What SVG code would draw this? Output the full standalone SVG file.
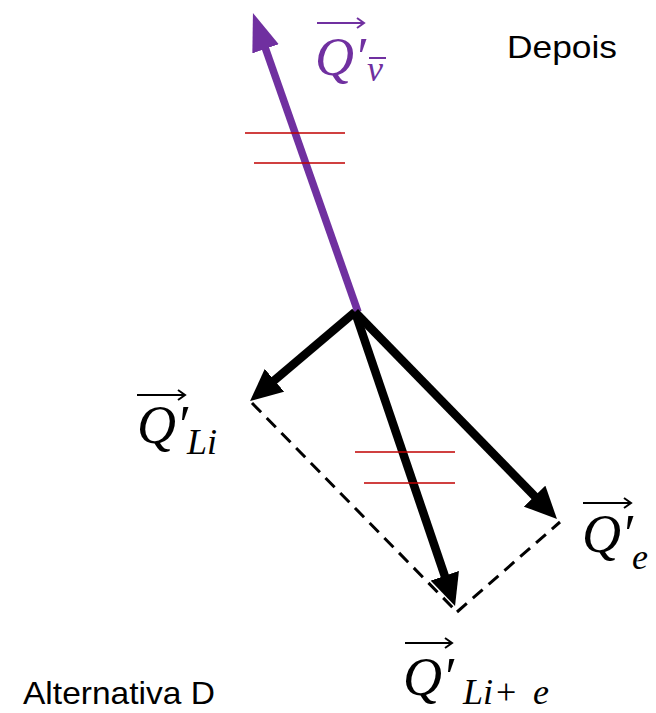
<svg xmlns="http://www.w3.org/2000/svg" width="656" height="713" viewBox="0 0 656 713">
<style>
.vec{stroke:#000;stroke-width:8.5;fill:none}
.pur{stroke:#7030a0;stroke-width:7.5;fill:none}
.dash{stroke:#000;stroke-width:3;stroke-dasharray:13 8;fill:none}
.red{stroke:#c00000;stroke-width:1.5}
.m{font-family:"Liberation Serif","DejaVu Serif",serif;font-style:italic;font-size:54px}
.sub{font-size:36px}
.up{font-style:normal}
.lbl{font-family:"Liberation Sans",Arial,sans-serif;font-size:32px;fill:#000}
.acc{stroke:#000;stroke-width:2;fill:none}
.accp{stroke:#7030a0;stroke-width:2;fill:none}
</style>
<defs>
<marker id="hb" markerUnits="userSpaceOnUse" markerWidth="32" markerHeight="30" refX="12" refY="15" orient="auto" viewBox="0 0 32 30">
<path d="M0,0 L32,15 L0,30 z" fill="#000"/>
</marker>
<marker id="hp" markerUnits="userSpaceOnUse" markerWidth="38" markerHeight="28" refX="14" refY="14" orient="auto" viewBox="0 0 38 28">
<path d="M0,0 L38,14 L0,28 z" fill="#7030a0"/>
</marker>
</defs>
<g id="connectors">
<line class="dash" x1="252" y1="403" x2="457" y2="612"/>
<line class="dash" x1="457" y1="612" x2="560" y2="522"/>
<line class="pur" x1="358" y1="312" x2="260.9" y2="35.6" marker-end="url(#hp)"/>
<line class="vec" x1="355" y1="312" x2="265.3" y2="388.1" marker-end="url(#hb)"/>
<line class="vec" x1="355" y1="312" x2="448.6" y2="587.1" marker-end="url(#hb)"/>
<line class="vec" x1="355" y1="312" x2="543" y2="504.7" marker-end="url(#hb)"/>
</g>
<g id="ticks">
<line class="red" x1="245" y1="133" x2="345" y2="133"/>
<line class="red" x1="254" y1="163" x2="345" y2="163"/>
<line class="red" x1="355" y1="452" x2="455" y2="452"/>
<line class="red" x1="364" y1="483" x2="455" y2="483"/>
</g>
<g id="label-Qv" fill="#7030a0">
<path class="accp" d="M317,23 H364 M357,18 L364,23 L357,28"/>
<text class="m" x="315" y="75">Q′<tspan class="sub" x="367" y="81">v</tspan></text>
<line class="accp" x1="369" y1="58" x2="386" y2="58"/>
</g>
<g id="label-QLi" fill="#000">
<path class="acc" d="M137,395 H185 M178,390 L185,395 L178,400"/>
<text class="m" x="137" y="443">Q′<tspan class="sub" x="187" y="454">Li</tspan></text>
</g>
<g id="label-Qe" fill="#000">
<path class="acc" d="M583,503 H631 M624,498 L631,503 L624,508"/>
<text class="m" x="582" y="552">Q′<tspan class="sub" x="632" y="569">e</tspan></text>
</g>
<g id="label-QLie" fill="#000">
<path class="acc" d="M405,643 H452 M445,638 L452,643 L445,648"/>
<text class="m" x="403" y="695">Q′<tspan class="sub" x="463" y="704">Li</tspan><tspan class="sub up" x="496" y="704">+</tspan><tspan class="sub" x="533" y="704">e</tspan></text>
</g>
<g id="text-depois">
<text class="lbl" x="507" y="58" textLength="110" lengthAdjust="spacingAndGlyphs">Depois</text>
</g>
<g id="text-alt">
<text class="lbl" x="23" y="704" textLength="192" lengthAdjust="spacingAndGlyphs">Alternativa D</text>
</g>
</svg>
